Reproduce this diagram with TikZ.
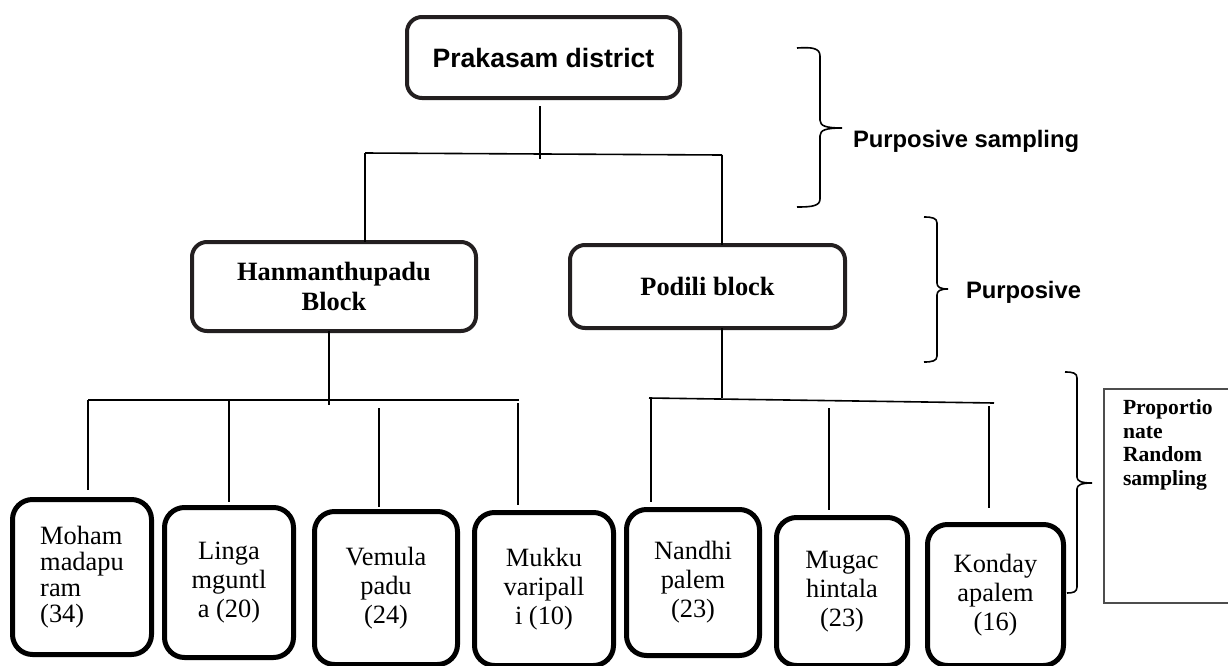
\documentclass[tikz,border=0pt]{standalone}
\usepackage{fontspec}
\setmainfont{Liberation Serif}
\setsansfont{Liberation Sans}
\usepackage{tikz}
\definecolor{c231F20}{RGB}{35,31,32}
\definecolor{c4D4D4D}{RGB}{77,77,77}
\tikzset{
  conn/.style={draw=black,line width=0.8pt},
  brc/.style={draw=black,line width=0.8pt},
  topbox/.style={draw=c231F20,line width=2pt,rounded corners=7.5pt,
    font=\sffamily\bfseries\fontsize{13.3}{15}\selectfont},
  blkbox/.style={draw=c231F20,line width=2pt,rounded corners=7.5pt,align=center,
    font=\bfseries\fontsize{13.2}{15}\selectfont},
  vilbox/.style={draw=black,line width=2.5pt,rounded corners=10pt,align=center,
    font=\fontsize{13.2}{14.5}\selectfont},
  sidelbl/.style={anchor=base west,font=\sffamily\bfseries\fontsize{11.9}{14}\selectfont},
}

\begin{document}
\begin{tikzpicture}[y=0.5pt,x=0.5pt,yscale=-1, inner sep=0pt, outer sep=0pt]
    \useasboundingbox (0,0) rectangle (1228,665);
    \clip (0,0) rectangle (1228,665);
      % district and blocks
      \node[topbox,minimum width=136.5pt,minimum height=40.5pt] (pdist) at (543.5,57.5) {Prakasam district};
      \node[blkbox,minimum width=142pt,minimum height=44.5pt] (hanman) at (334,286.5) {Hanmanthupadu\\Block};
      \node[blkbox,minimum width=137.5pt,minimum height=41.5pt] (podili) at (707.5,286.5) {Podili block};
      % villages
      \node[vilbox,minimum width=69.5pt,minimum height=77.5pt,align=left,
        font=\fontsize{13.2}{13}\selectfont] (moham) at (82,577) {Moham\\madapu\\ram\\(34)};
      \node[vilbox,minimum width=64.5pt,minimum height=75pt] (linga) at (229,582.5) {Linga\\mguntl\\a (20)};
      \node[vilbox,minimum width=71.5pt,minimum height=76.5pt] (vemula) at (386,588) {Vemula\\padu\\(24)};
      \node[vilbox,minimum width=69.5pt,minimum height=76.5pt] (mukku) at (544,589) {Mukku\\varipall\\i (10)};
      \node[vilbox,minimum width=66.5pt,minimum height=73pt] (nandhi) at (693,582.5) {Nandhi\\palem\\(23)};
      \node[vilbox,minimum width=65.5pt,minimum height=74pt] (mugac) at (842,591.5) {Mugac\\hintala\\(23)};
      \node[vilbox,minimum width=68pt,minimum height=70.5pt] (konday) at (995.5,595) {Konday\\apalem\\(16)};
      % sampling labels
      \node[sidelbl] (psamp) at (853,147) {Purposive sampling};
      \node[sidelbl] (ppurp) at (966,298) {Purposive};
      \node[draw=c4D4D4D,line width=0.7pt,anchor=north west,minimum width=64pt,
        minimum height=107pt] (prbox) at (1104,389) {};
      \node[anchor=north west,align=left,font=\bfseries\fontsize{10.8}{11.7}\selectfont]
        (prtxt) at (1123,400) {Proportio\\nate\\Random\\sampling};
      % tree lines
      \coordinate (tb0) at (540,159);
      \coordinate (tbl) at (365,153);
      \coordinate (tbr) at (722,155);
      \coordinate (hb0) at (329,405);
      \coordinate (hbl) at (88,400);
      \coordinate (hbr) at (519,400);
      \coordinate (pb0) at (722,398);
      \coordinate (pbl) at (649,398);
      \coordinate (pbr) at (994,403);
      \coordinate (hv1) at (88,400);
      \coordinate (hv2) at (229,400);
      \coordinate (hv3) at (379,408);
      \coordinate (hv4) at (518,403);
      \coordinate (pv1) at (651,398);
      \coordinate (pv2) at (829,408);
      \coordinate (pv3) at (989,406);
      \draw[conn,shorten <=4pt] (pdist.south -| tb0) -- (tb0);
      \draw[conn] (tbl) -- (tbr);
      \draw[conn] (tbl) -- (tbl |- hanman.north);
      \draw[conn] (tbr) -- (tbr |- podili.north);
      \draw[conn] (hanman.south -| hb0) -- (hb0);
      \draw[conn] (hbl) -- (hbr);
      \draw[conn] (podili.south -| pb0) -- (pb0);
      \draw[conn] (pbl) -- (pbr);
      \foreach \s/\b/\g in {hv1/moham/4.75pt,hv2/linga/2.75pt,hv3/vemula/2.25pt,
        hv4/mukku/3.75pt,pv1/nandhi/3.75pt,pv2/mugac/3.75pt,pv3/konday/8.25pt}
        \draw[conn,shorten >=\g] (\s) -- (\s |- \b.north);
      % braces
      \path[brc] (797,48) .. controls (812,47) and (820,48) .. (820,56) -- (820,120)
        .. controls (820,126) and (826,128) .. (842,128)
        .. controls (826,128) and (820,130) .. (820,136) -- (820,199)
        .. controls (820,206) and (812,207) .. (797,207);
      \path[brc] (924,217) .. controls (932,217) and (937,218) .. (937,223) -- (937,283)
        .. controls (937,287) and (940,289) .. (948,289)
        .. controls (940,289) and (937,291) .. (937,295) -- (937,356)
        .. controls (937,361) and (932,362) .. (924,362);
      \path[brc] (1065,372) .. controls (1073,372) and (1077,373) .. (1077,378) -- (1077,477)
        .. controls (1077,481) and (1081,483) .. (1092,483)
        .. controls (1081,483) and (1077,485) .. (1077,489) -- (1077,587)
        .. controls (1077,592) and (1073,593) .. (1067,593);
  \end{tikzpicture}
\end{document}
